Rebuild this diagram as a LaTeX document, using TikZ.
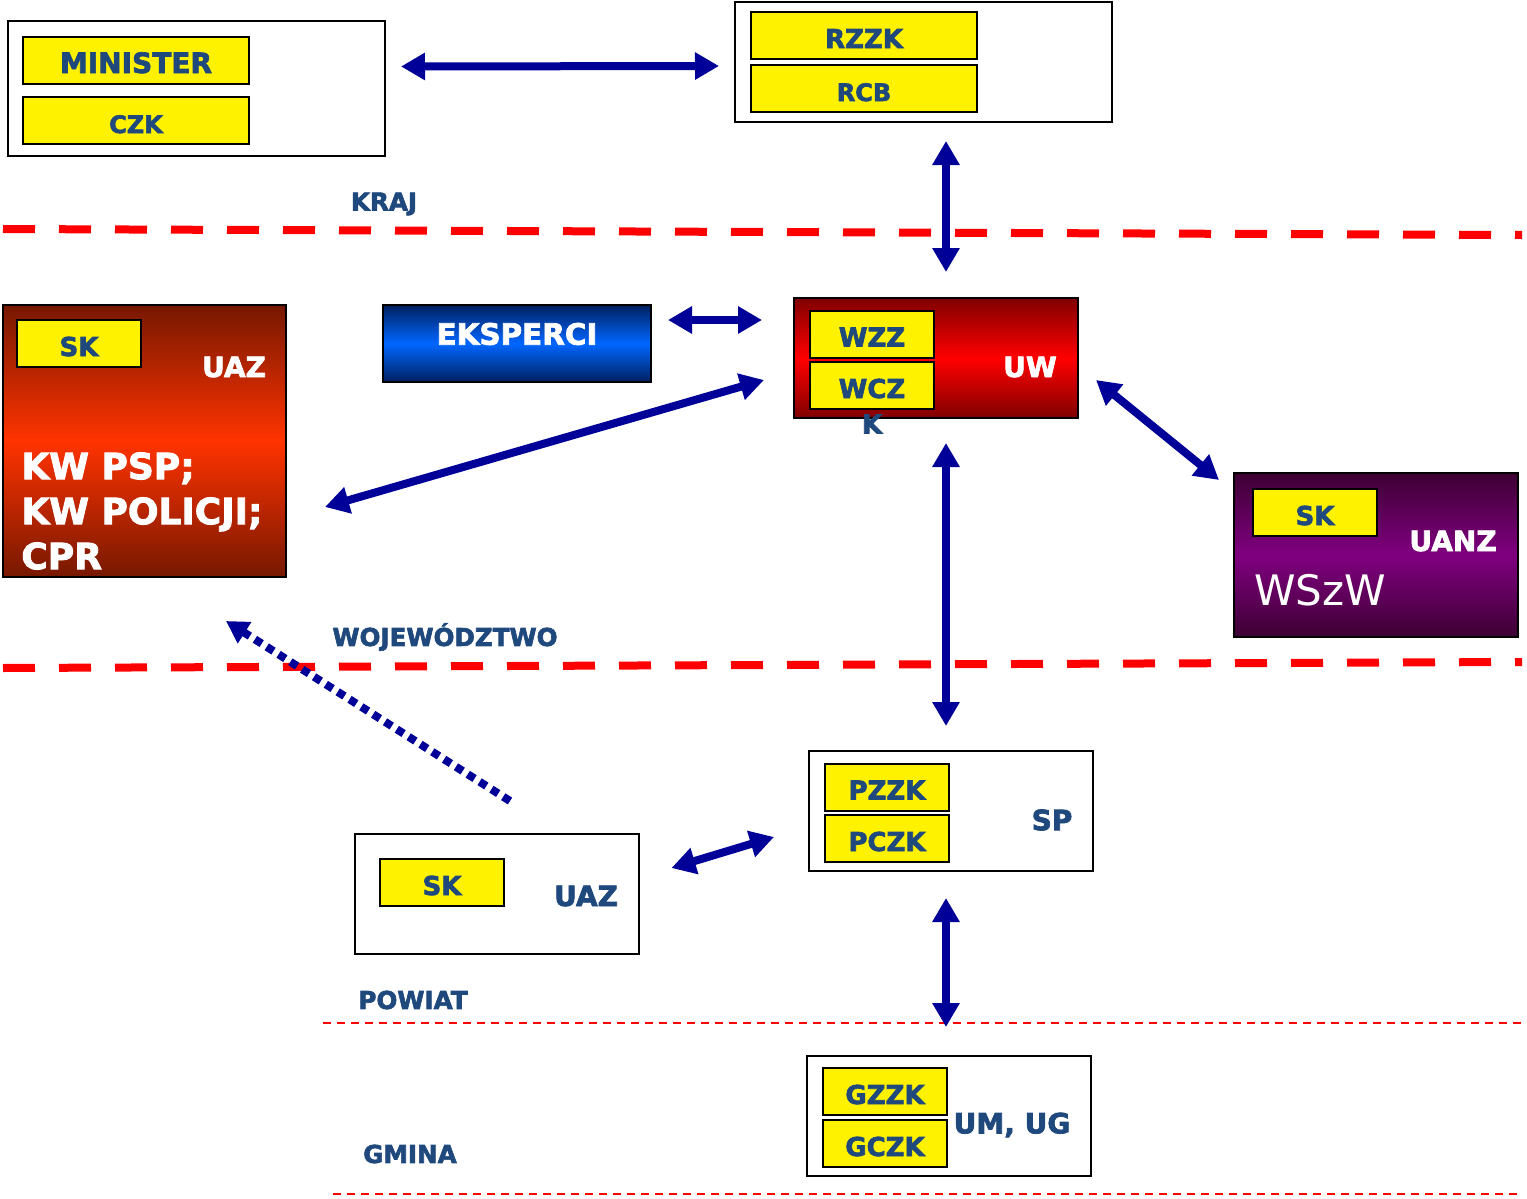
\documentclass[tikz,border=0pt]{standalone}
\usepackage{fontspec}
\setmainfont{DejaVu Sans}[BoldFeatures={FakeBold=2.5}]
\usetikzlibrary{arrows.meta}
\definecolor{labelblue}{RGB}{31,73,125}
\definecolor{arrowblue}{RGB}{0,0,153}
\definecolor{uazdark}{RGB}{118,24,0}
\definecolor{uazlight}{RGB}{255,51,0}
\definecolor{uwdark}{RGB}{128,0,0}
\definecolor{ekspdark}{RGB}{0,32,96}
\definecolor{eksplight}{RGB}{0,102,255}
\definecolor{uanzdark}{RGB}{61,0,51}
\definecolor{uanzlight}{RGB}{128,0,128}
\newcommand{\fsz}[1]{\fontsize{#1pt}{#1pt}\selectfont}

\tikzset{
  frame/.style={draw=black, line width=1pt, inner sep=0pt, minimum width=142pt, minimum height=60pt},
  yelbox/.style={draw=black, line width=1pt, fill=yellow, text=labelblue, inner sep=0pt, minimum width=62pt, minimum height=23.5pt, text height=12.5pt, text depth=0pt, font=\bfseries\fsz{13}},
  widebox/.style={yelbox, minimum width=113pt},
  whitetext/.style={text=white, font=\bfseries\fsz{14}},
  bluetext/.style={text=labelblue, font=\bfseries\fsz{14}},
  levellabel/.style={text=labelblue, font=\bfseries\fsz{12.3}},
  bordline/.style={draw=red, line width=4pt, line cap=butt, dash pattern=on 16pt off 12pt},
  thinline/.style={draw=red, line width=1pt, dash pattern=on 4pt off 3pt},
  biarrow/.style={draw=arrowblue, line width=4pt, {Triangle[length=12pt,width=13pt]}-{Triangle[length=12pt,width=13pt]}},
  dotarrow/.style={draw=arrowblue, line width=4pt, dash pattern=on 4pt off 3pt, -{Triangle[length=11pt,width=12pt]}}
}

\begin{document}
\begin{tikzpicture}[x=0.5pt, y=-0.5pt]
\useasboundingbox (0,0) rectangle (1527,1199);

% level borders
\draw[bordline] (3,229) -- (1522,235);
\draw[bordline] (3,668) -- (1522,662);
\draw[thinline] (323,1023) -- (1522,1023);
\draw[thinline] (333,1194) -- (1522,1194);

\node[levellabel] (kraj) at (384,204) {KRAJ};
\node[levellabel] (woj) at (445,637) {WOJEWÓDZTWO};
\node[levellabel] (powiat) at (413,1000) {POWIAT};
\node[levellabel] (gmina) at (410,1154) {GMINA};

% kraj
\node[frame, minimum width=188.5pt, minimum height=67.5pt] (minbox) at (196.5,88.5) {};
\node[widebox, font=\bfseries\fsz{14}] (minister) at (136,60.5) {MINISTER};
\node[widebox, font=\bfseries\fsz{12}] (czk) at (136,120.5) {CZK};

\node[frame, minimum width=188.5pt, minimum height=60pt] (rzzkbox) at (923.5,62) {};
\node[widebox] (rzzk) at (864,35.5) {RZZK};
\node[widebox, font=\bfseries\fsz{12}] (rcb) at (864,88.5) {RCB};

% wojewodztwo
\node[frame, minimum width=141.5pt, minimum height=136pt, top color=uazdark, bottom color=uazdark, middle color=uazlight] (kwbox) at (144.5,441) {};
\node[yelbox] (sk1) at (79,343.5) {SK};
\node[whitetext] (uaz1) at (234,367) {UAZ};
\node[text=white, font=\bfseries\fontsize{18pt}{22.5pt}\selectfont, align=left, anchor=west, inner sep=0pt] (kwtext) at (21,511) {KW PSP;\\KW POLICJI;\\CPR};

\node[frame, minimum width=134pt, minimum height=38.5pt, top color=ekspdark, bottom color=ekspdark, middle color=eksplight] (eksp) at (517,343.5) {};
\node[whitetext, font=\bfseries\fsz{14.7}] (eksptext) at (517,334) {EKSPERCI};

\node[frame, top color=uwdark, bottom color=uwdark, middle color=red] (uwbox) at (936,358) {};
\node[yelbox] (wzz) at (872,334) {WZZ};
\node[yelbox] (wcz) at (872,385.5) {WCZ};
\node[bluetext, font=\bfseries\fsz{13}] (wczk) at (872,424) {K};
\node[whitetext] (uw) at (1030,367) {UW};

\node[frame, minimum height=82pt, top color=uanzdark, bottom color=uanzdark, middle color=uanzlight] (uanzbox) at (1376,555) {};
\node[yelbox] (sk2) at (1315,512.5) {SK};
\node[whitetext] (uanz) at (1453,541) {UANZ};
\node[text=white, font=\fsz{21}, anchor=west, inner sep=0pt] (wszw) at (1254,590) {WSzW};

% powiat
\node[frame] (spbox) at (951,811) {};
\node[yelbox] (pzzk) at (887,787) {PZZK};
\node[yelbox] (pczk) at (887,838.5) {PCZK};
\node[bluetext] (sp) at (1052,820) {SP};

\node[frame] (uaz2box) at (496.5,894) {};
\node[yelbox] (sk3) at (442,882.5) {SK};
\node[bluetext] (uaz2) at (586,896) {UAZ};

% gmina
\node[frame] (umbox) at (949,1116) {};
\node[yelbox] (gzzk) at (885,1091.5) {GZZK};
\node[yelbox] (gczk) at (885,1143.5) {GCZK};
\node[bluetext] (umug) at (1012,1125) {UM, UG};

% connections
\draw[biarrow] ([shift={(15,-22)}]minbox.east) -- ([shift={(-15,4)}]rzzkbox.west);
\draw[biarrow] ([shift={(22.5,18)}]rzzkbox.south) -- ([shift={(10,-25)}]uwbox.north);
\draw[biarrow] ([shift={(16,-23.5)}]eksp.east) -- ([shift={(-31,-38)}]uwbox.west);
\draw[biarrow] ([shift={(-29,22)}]uwbox.west) -- ([shift={(38,66)}]kwbox.east);
\draw[biarrow] ([shift={(17,22)}]uwbox.east) -- ([shift={(-14,8)}]uanzbox.north west);
\draw[biarrow] ([shift={(10,24)}]uwbox.south) -- ([shift={(-5,-24)}]spbox.north);
\draw[dotarrow] ([shift={(13.5,-32)}]uaz2box.north) -- ([shift={(81.5,43)}]kwbox.south);
\draw[biarrow] ([shift={(32,-26)}]uaz2box.east) -- ([shift={(-34,26)}]spbox.west);
\draw[biarrow] ([shift={(-5,26)}]spbox.south) -- ([shift={(-3,-28)}]umbox.north);

\end{tikzpicture}
\end{document}
